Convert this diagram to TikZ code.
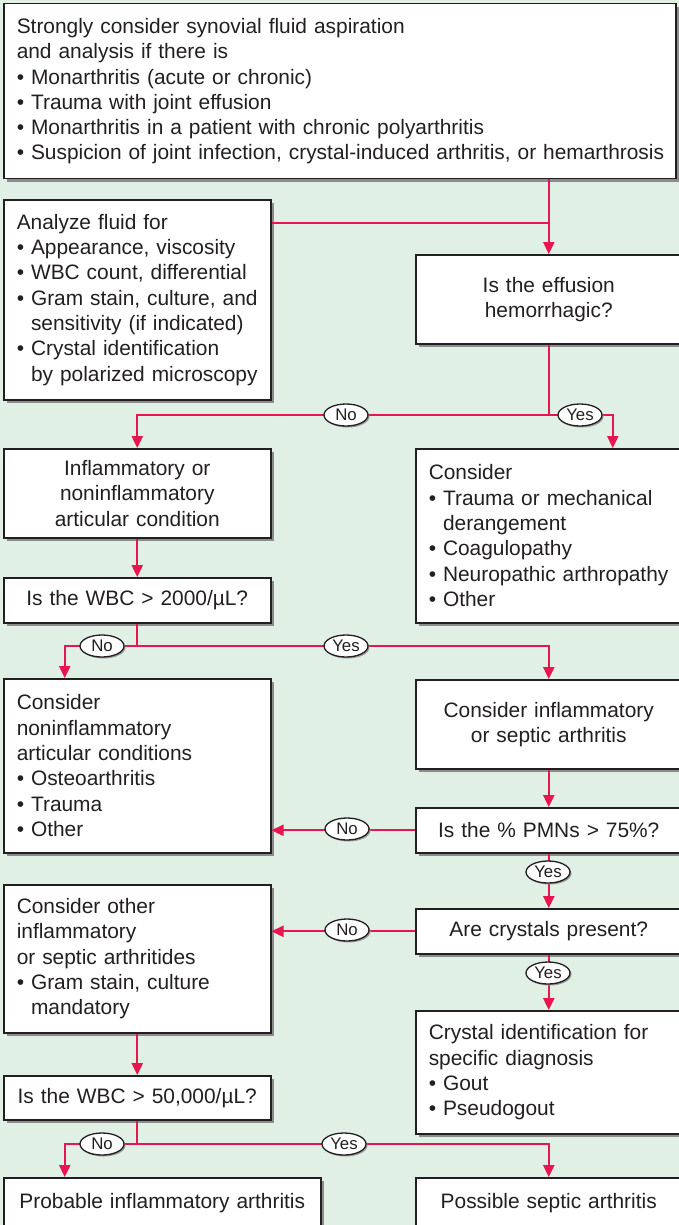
\documentclass[tikz,border=0pt]{standalone}
\usepackage{fontspec}
\setmainfont{Liberation Sans}
\usetikzlibrary{arrows.meta,shapes.geometric,shadows,calc}
\definecolor{bg}{RGB}{224,240,229}
\definecolor{flow}{RGB}{232,22,80}
\definecolor{ink}{RGB}{35,31,32}
\tikzset{
  box/.style={draw=ink, line width=1.5pt, fill=white, text=ink,
    font=\fontsize{20.9}{25.3}\selectfont, inner xsep=13pt, inner ysep=0pt,
    drop shadow={shadow xshift=3pt, shadow yshift=-3pt, fill=black!45, opacity=1},
    anchor=north west},
  lbox/.style={box, align=left},
  cbox/.style={box, align=center},
  conn/.style={draw=flow, line width=2.4pt},
  arr/.style={-{Triangle[length=12pt,width=11pt]}},
  yn/.style={ellipse, draw=ink, line width=1.3pt, fill=white, minimum width=44pt,
    minimum height=22pt, inner sep=0pt, font=\fontsize{16.8}{18}\selectfont, text=ink,
    drop shadow={shadow xshift=1.5pt, shadow yshift=-1.5pt, fill=black!40, opacity=1}}
}
\newcommand{\ind}{\hphantom{• }}
\begin{document}
\begin{tikzpicture}[x=1pt,y=-1pt]
\useasboundingbox (0,0) rectangle (679,1225);
\clip (0,0) rectangle (679,1225);
\fill[bg] (0,0) rectangle (679,1225);

% boxes
\node[lbox, text width=646pt, minimum height=175pt] (top) at (3,3)
  {Strongly consider synovial fluid aspiration\\ and analysis if there is\\
   • Monarthritis (acute or chronic)\\ • Trauma with joint effusion\\
   • Monarthritis in a patient with chronic polyarthritis\\
   \mbox{• Suspicion of joint infection, crystal-induced arthritis, or hemarthrosis}};
\node[lbox, text width=241pt, minimum height=200pt] (an) at (3,199)
  {Analyze fluid for\\ • Appearance, viscosity\\ • WBC count, differential\\
   • Gram stain, culture, and\\ \ind sensitivity (if indicated)\\
   • Crystal identification\\ \ind by polarized microscopy};
\node[cbox, text width=240pt, minimum height=89pt] (eff) at (415,254)
  {Is the effusion\\ hemorrhagic?};
\node[cbox, text width=241pt, minimum height=89pt] (inf) at (3,448)
  {Inflammatory or\\ noninflammatory\\ articular condition};
\node[lbox, text width=240pt, minimum height=174pt] (c1) at (415,448)
  {Consider\\ • Trauma or mechanical\\ \ind derangement\\ • Coagulopathy\\
   • Neuropathic arthropathy\\ • Other};
\node[cbox, text width=241pt, minimum height=45pt] (wbc) at (3,577)
  {Is the WBC > 2000/µL?};
\node[lbox, text width=241pt, minimum height=174pt] (non) at (3,678)
  {Consider\\ noninflammatory\\ articular conditions\\ • Osteoarthritis\\
   • Trauma\\ • Other};
\node[cbox, text width=240pt, minimum height=89pt] (ci) at (415,679)
  {Consider inflammatory\\ or septic arthritis};
\node[cbox, text width=240pt, minimum height=45pt] (pmn) at (415,807)
  {Is the \% PMNs > 75\%?};
\node[lbox, text width=241pt, minimum height=148pt] (oth) at (3,884)
  {Consider other\\ inflammatory\\ or septic arthritides\\
   • Gram stain, culture\\ \ind mandatory};
\node[cbox, text width=240pt, minimum height=45pt] (crys) at (415,908)
  {Are crystals present?};
\node[lbox, text width=240pt, minimum height=123pt] (cid) at (415,1010)
  {Crystal identification for\\ specific diagnosis\\ • Gout\\ • Pseudogout};
\node[cbox, text width=241pt, minimum height=44pt] (w50) at (3,1075)
  {Is the WBC > 50,000/µL?};
\node[cbox, text width=291pt, minimum height=50pt] (prob) at (3,1177)
  {Probable inflammatory arthritis};
\node[cbox, text width=240pt, minimum height=50pt] (poss) at (415,1177)
  {Possible septic arthritis};

% helper coordinates
\coordinate (y223) at (0,223);
\coordinate (y415) at (0,415);
\coordinate (y646) at (0,646);
\coordinate (y1144) at (0,1144);
\coordinate (j1) at (eff.north |- y223);
\coordinate (j2) at (eff.south |- y415);

% connectors
\draw[conn,arr] (top.south -| eff.north) -- (eff.north);
\draw[conn] (j1) -- (j1 -| an.east);
\draw[conn] (eff.south) -- (j2);
\draw[conn,arr] (j2) -| (inf.north);
\draw[conn,arr] (j2) -| ([xshift=64pt]c1.north);
\node[yn] (n1) at (346,415) {No};
\node[yn] (y1) at (580,415) {Yes};

\draw[conn,arr] (inf.south) -- (wbc.north);
\draw[conn] (wbc.south) -- (wbc.south |- y646) coordinate (j3);
\draw[conn,arr] (j3) -| ([xshift=-72.5pt]non.north);
\draw[conn,arr] (j3) -| (ci.north);
\node[yn] (n2) at (102,646) {No};
\node[yn] (y2) at (346,646) {Yes};

\draw[conn,arr] (ci.south) -- (pmn.north);
\draw[conn,arr] (pmn.west) -- (pmn.west -| non.east);
\node[yn] (n3) at (347,829) {No};
\draw[conn,arr] (pmn.south) -- (crys.north);
\node[yn] (y3) at (548,872) {Yes};
\draw[conn,arr] (crys.west) -- (crys.west -| oth.east);
\node[yn] (n4) at (347,930) {No};
\draw[conn,arr] (crys.south) -- (cid.north);
\node[yn] (y4) at (548,973) {Yes};

\draw[conn,arr] (oth.south) -- (w50.north);
\draw[conn] (w50.south) -- (w50.south |- y1144) coordinate (j4);
\draw[conn,arr] (j4) -| ([xshift=-97.5pt]prob.north);
\draw[conn,arr] (j4) -| (poss.north);
\node[yn] (n5) at (102,1144) {No};
\node[yn] (y5) at (344,1144) {Yes};
\end{tikzpicture}
\end{document}
